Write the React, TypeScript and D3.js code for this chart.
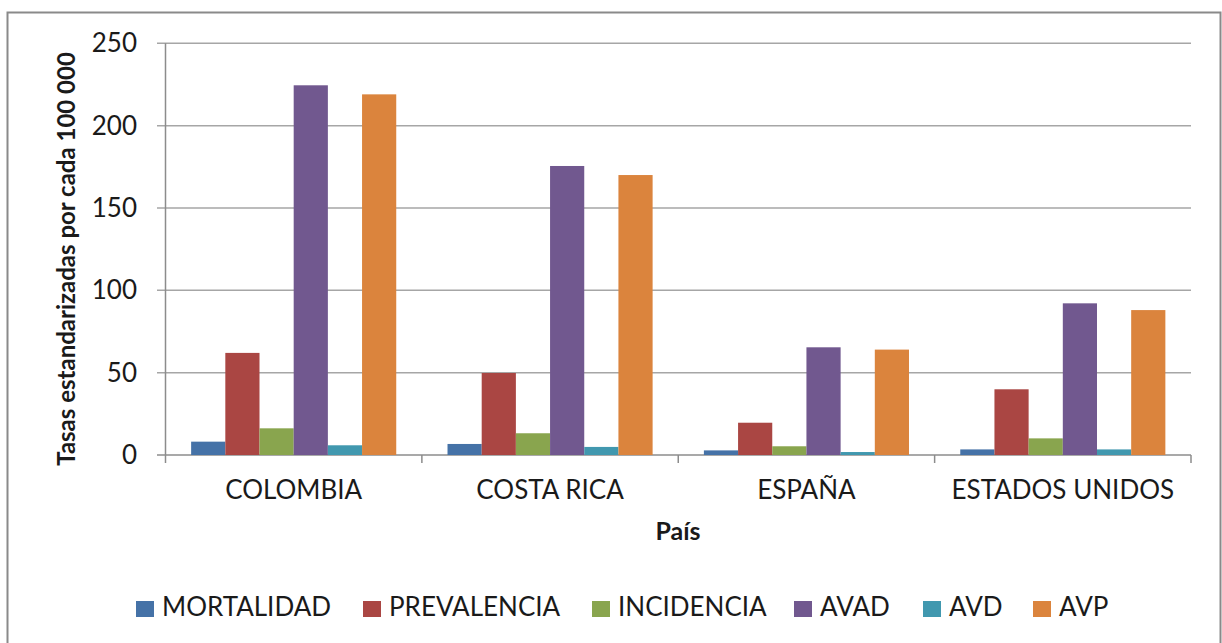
import React from "react";
import * as d3 from "d3";

// Standardized rates per 100 000 by country
const countries = ["COLOMBIA", "COSTA RICA", "ESPAÑA", "ESTADOS UNIDOS"];
const seriesNames = ["MORTALIDAD", "PREVALENCIA", "INCIDENCIA", "AVAD", "AVD", "AVP"];
const mortalidad = [8.1, 6.7, 2.8, 3.4];
const prevalencia = [62, 49.8, 19.6, 39.9];
const incidencia = [16.2, 13.2, 5.3, 10.1];
const avad = [224.5, 175.5, 65.4, 92.1];
const avd = [5.9, 4.9, 1.8, 3.4];
const avp = [219, 170, 64, 88];
const yTicks = [0, 50, 100, 150, 200, 250];
const colors = ["#4572A7", "#AA4643", "#89A54E", "#71588F", "#4198AF", "#DB843D"];

const seriesValues = [mortalidad, prevalencia, incidencia, avad, avd, avp];

const W = 1222;
const H = 643;
const plot = { left: 165.5, right: 1191, top: 43.3, bottom: 455 };
const FONT = "Lato, 'Open Sans', sans-serif";
const TEXT = "#1a1a1a";

export default function App() {
  const x0 = d3.scaleBand<string>().domain(countries).range([plot.left, plot.right]).padding(0);
  const bw = x0.bandwidth();
  const gap = (bw / 7.5) * 1.5;
  const x1 = d3
    .scaleBand<string>()
    .domain(seriesNames)
    .range([gap / 2, bw - gap / 2])
    .padding(0);
  const y = d3.scaleLinear().domain([0, 250]).range([plot.bottom, plot.top]);

  const boundaries = [...countries.map((c) => x0(c) as number), plot.right];

  const legendX = [136, 363, 592, 794, 923, 1033];

  return (
    <svg
      width={W}
      height={H}
      style={{ position: "absolute", left: 0, top: 0, background: "#fff" }}
      fontFamily={FONT}
    >
      <rect x={0} y={0} width={W} height={H} fill="#fff" />
      {/* chart frame */}
      <rect x={7.5} y={12.5} width={1213} height={700} fill="none" stroke="#8a8a8a" strokeWidth={2} />

      {/* gridlines + y ticks */}
      {yTicks.map((t) => (
        <g key={t}>
          <line
            x1={157}
            x2={plot.right}
            y1={y(t)}
            y2={y(t)}
            stroke={t === 0 ? "#8c8c8c" : "#a6a6a6"}
            strokeWidth={1.5}
          />
          <text x={137} y={y(t) + 9} textAnchor="end" fontSize={26} fill={TEXT}>
            {t}
          </text>
        </g>
      ))}
      {/* y axis line */}
      <line x1={plot.left} x2={plot.left} y1={plot.top} y2={plot.bottom} stroke="#8c8c8c" strokeWidth={1.5} />

      {/* category tick marks */}
      {boundaries.map((bx, i) => (
        <line key={i} x1={bx} x2={bx} y1={plot.bottom} y2={plot.bottom + 8} stroke="#8c8c8c" strokeWidth={1.5} />
      ))}

      {/* bars */}
      {countries.map((c, ci) => (
        <g key={c} transform={`translate(${x0(c)},0)`}>
          {seriesNames.map((s, si) => {
            const v = seriesValues[si][ci];
            return (
              <rect
                key={s}
                x={x1(s)}
                y={y(v)}
                width={x1.bandwidth()}
                height={plot.bottom - y(v)}
                fill={colors[si]}
              />
            );
          })}
        </g>
      ))}

      {/* category labels */}
      {countries.map((c) => (
        <text
          key={c}
          x={(x0(c) as number) + bw / 2}
          y={499}
          textAnchor="middle"
          fontSize={26}
          fill={TEXT}
        >
          {c}
        </text>
      ))}

      {/* axis titles */}
      <text x={678} y={540} textAnchor="middle" fontSize={25} fontWeight="bold" fill={TEXT}>
        País
      </text>
      <text
        transform={`translate(75,259) rotate(-90)`}
        textAnchor="middle"
        fontSize={24}
        fontWeight="bold"
        fill={TEXT}
      >
        Tasas estandarizadas por cada 100 000
      </text>

      {/* legend */}
      {seriesNames.map((s, i) => (
        <g key={s}>
          <rect x={legendX[i]} y={601} width={18} height={16} fill={colors[i]} />
          <text x={legendX[i] + 26} y={616} fontSize={26} fill={TEXT}>
            {s}
          </text>
        </g>
      ))}
    </svg>
  );
}
